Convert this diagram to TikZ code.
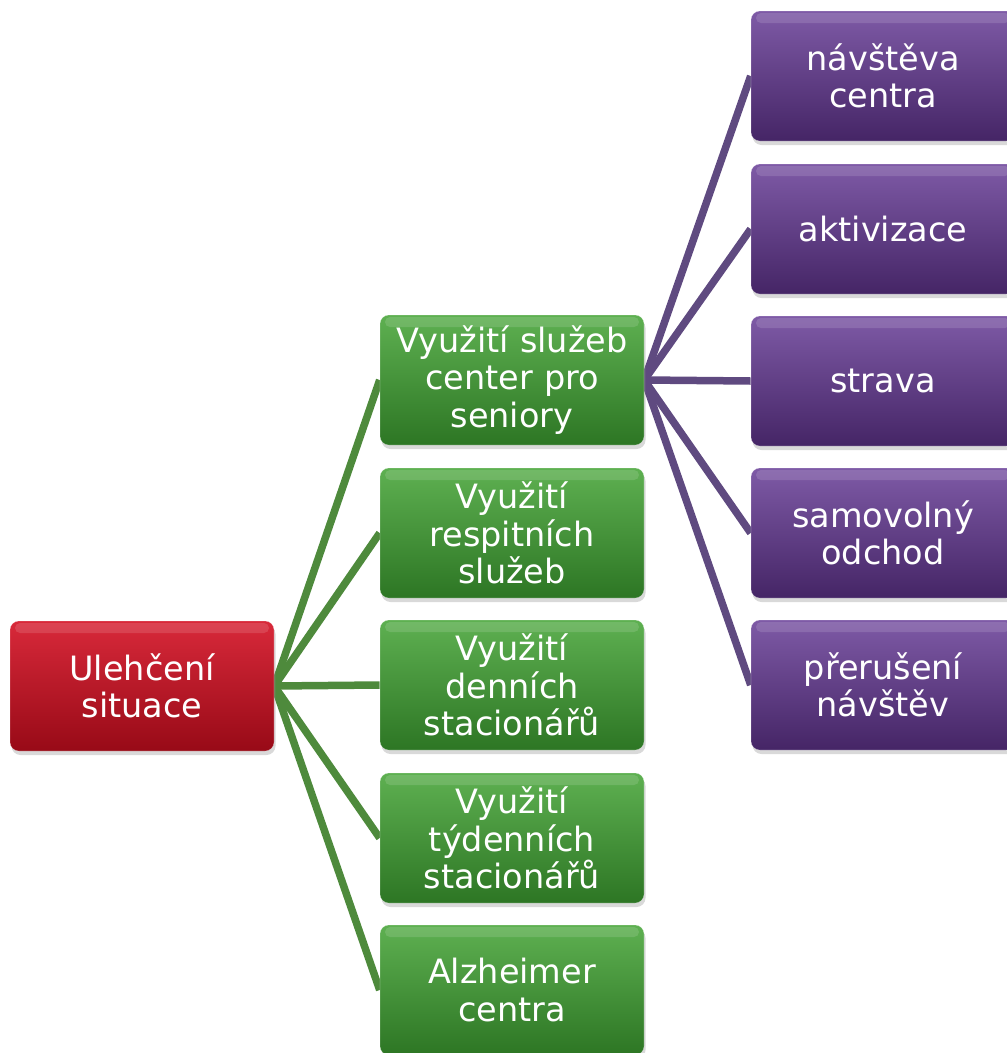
\documentclass[tikz,border=0pt]{standalone}
\usepackage{fontspec}
\setmainfont{DejaVu Sans}
\usetikzlibrary{shadows,backgrounds}

\definecolor{redtop}{HTML}{D8293A}
\definecolor{redbot}{HTML}{980A17}
\definecolor{greentop}{HTML}{5EB051}
\definecolor{greenbot}{HTML}{2D7624}
\definecolor{purptop}{HTML}{7E5AA6}
\definecolor{purpbot}{HTML}{452566}
\definecolor{greenline}{HTML}{4E8A3C}
\definecolor{purpline}{HTML}{5F4A80}

\tikzset{
  box/.style={rounded corners=9pt, minimum width=264pt, minimum height=130pt,
    inner sep=0pt, text width=256pt, align=center, text=white,
    font=\fontsize{33.5}{37.5}\selectfont,
    draw=white, draw opacity=0.25, line width=0.6pt,
    drop shadow={opacity=0.3, shadow xshift=1.5pt, shadow yshift=-4pt},
    path picture={
      \fill[white, opacity=0.13, rounded corners=5pt]
        ([xshift=5pt, yshift=-2pt]path picture bounding box.north west)
        rectangle ([xshift=-5pt, yshift=-12pt]path picture bounding box.north east);
    }},
  rootbox/.style={box, top color=redtop, bottom color=redbot},
  midbox/.style={box, top color=greentop, bottom color=greenbot},
  leafbox/.style={box, top color=purptop, bottom color=purpbot},
  midlink/.style={draw=greenline, line width=7.5pt},
  leaflink/.style={draw=purpline, line width=7.5pt}
}

\begin{document}
\begin{tikzpicture}[x=1pt, y=-1pt]
\useasboundingbox (0,0) rectangle (1007,1053);

% root
\node[rootbox] (root) at (142,686) {Ulehčení\\situace};

% second level
\node[midbox] (m1) at (512,380) {Využití služeb\\center pro\\seniory};
\node[midbox] (m2) at (512,533) {Využití\\respitních\\služeb};
\node[midbox] (m3) at (512,685) {Využití\\denních\\stacionářů};
\node[midbox] (m4) at (512,838) {Využití\\týdenních\\stacionářů};
\node[midbox] (m5) at (512,990) {Alzheimer\\centra};

% third level
\node[leafbox] (l1) at (883,76)  {návštěva\\centra};
\node[leafbox] (l2) at (883,229) {aktivizace};
\node[leafbox] (l3) at (883,381) {strava};
\node[leafbox] (l4) at (883,533) {samovolný\\odchod};
\node[leafbox] (l5) at (883,685) {přerušení\\návštěv};

\begin{scope}[on background layer]
  \foreach \m in {m1,m2,m3,m4,m5}
    \draw[midlink] (root.east) -- (\m.west);
  \foreach \l in {l1,l2,l3,l4,l5}
    \draw[leaflink] (m1.east) -- (\l.west);
\end{scope}
\end{tikzpicture}
\end{document}
